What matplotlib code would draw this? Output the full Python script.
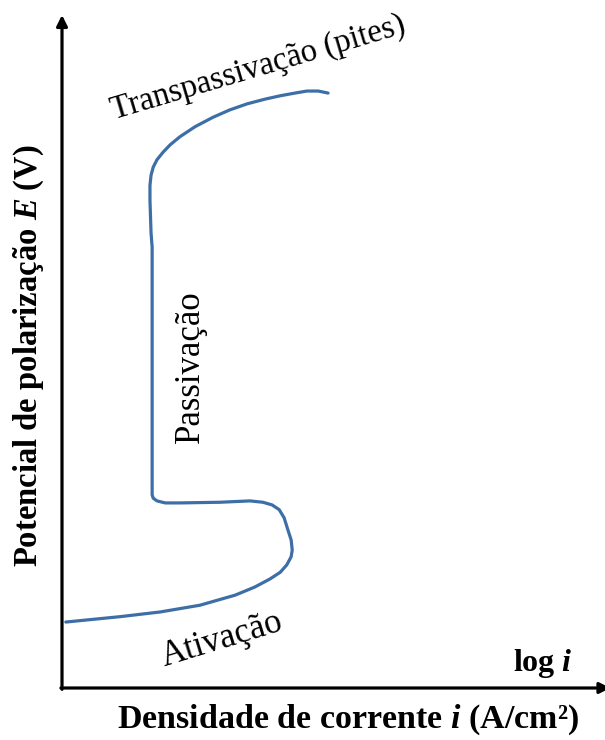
import matplotlib.pyplot as plt

plt.rcParams["font.family"] = "Liberation Serif"
plt.rcParams["mathtext.fontset"] = "custom"
plt.rcParams["mathtext.it"] = "Liberation Serif:bold:italic"
plt.rcParams["mathtext.rm"] = "Liberation Serif:bold"

# Schematic anodic polarization curve (arbitrary units):
# activation -> passivation -> transpassivation
log_i = [0.07, 1.07, 1.81, 2.54, 3.19, 3.55, 3.83, 4.02, 4.14, 4.22, 4.24,
         4.22, 4.16, 4.09, 4.00, 3.87, 3.70, 3.46, 2.91, 2.17, 1.90, 1.75,
         1.68, 1.66, 1.66, 1.66, 1.64, 1.62, 1.62, 1.64, 1.68, 1.75, 1.86,
         1.99, 2.17, 2.45, 2.78, 3.09, 3.41, 3.74, 4.02, 4.29, 4.51, 4.72,
         4.90]
E = [0.98, 1.06, 1.13, 1.23, 1.38, 1.50, 1.62, 1.72, 1.83, 1.95, 2.05,
     2.20, 2.35, 2.53, 2.65, 2.72, 2.76, 2.78, 2.76, 2.75, 2.75, 2.78,
     2.82, 2.87, 4.28, 6.55, 6.76, 7.25, 7.47, 7.62, 7.74, 7.85, 7.96,
     8.07, 8.19, 8.34, 8.48, 8.59, 8.68, 8.75, 8.80, 8.84, 8.87, 8.87,
     8.84]

fig = plt.figure(figsize=(6.05, 7.40), dpi=100)
ax = fig.add_axes([62 / 605, 52 / 740, 543 / 605, 673 / 740])
ax.set_xlim(0, 10)
ax.set_ylim(0, 10)
ax.axis("off")

ax.plot(log_i, E, color="#3d6fa6", lw=2.3, solid_capstyle="round",
        solid_joinstyle="round")

# axes drawn as arrows
ax.annotate("", xy=(0, 1.0), xytext=(0, -0.002), xycoords="axes fraction",
            arrowprops=dict(arrowstyle="-|>", lw=2.3, color="black",
                            mutation_scale=16, shrinkA=0, shrinkB=0))
ax.annotate("", xy=(1.01, 0), xytext=(-0.002, 0), xycoords="axes fraction",
            arrowprops=dict(arrowstyle="-|>", lw=2.3, color="black",
                            mutation_scale=16, shrinkA=0, shrinkB=0),
            annotation_clip=False)

# region labels
ax.text(3.62, 9.21, "Transpassivação (pites)", fontsize=23.5, rotation=16.5,
        ha="center", va="center")
ax.text(2.36, 4.78, "Passivação", fontsize=25, rotation=90,
        ha="center", va="center")
ax.text(2.95, 0.71, "Ativação", fontsize=25, rotation=17,
        ha="center", va="center")
ax.text(8.86, 0.37, "log $i$", fontsize=23, fontweight="bold",
        ha="center", va="center")

fig.text(348 / 605, 1 - 720 / 740, "Densidade de corrente $i$ (A/cm²)",
         fontsize=24.5, fontweight="bold", ha="center", va="center")
fig.text(29 / 605, 1 - 356 / 740, "Potencial de polarização $E$ (V)",
         fontsize=23.5, fontweight="bold", rotation=90, ha="center", va="center")

plt.savefig("out.png", dpi=100)
